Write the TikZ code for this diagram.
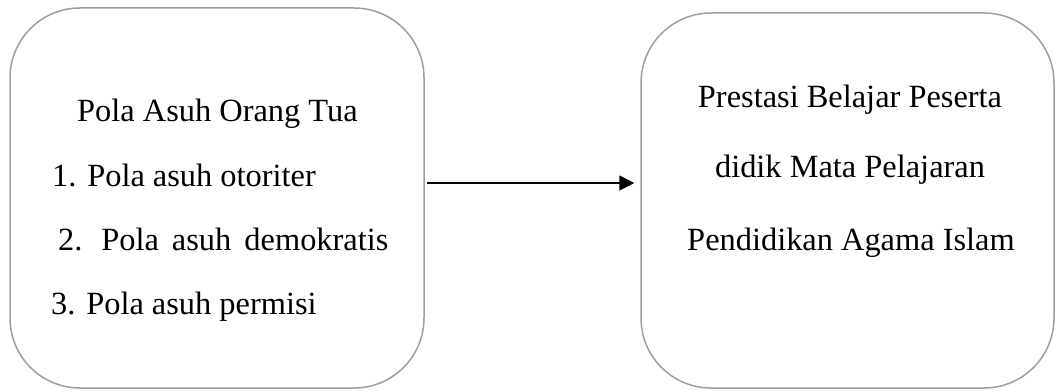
\documentclass[tikz,border=0pt]{standalone}
\usepackage{fontspec}
\setmainfont{Liberation Serif}
\usetikzlibrary{arrows.meta}
\begin{document}
\begin{tikzpicture}[x=1pt,y=1pt,
  box/.style={draw=black!38,line width=1.5pt,rounded corners=70pt,inner sep=0pt},
  txt/.style={anchor=base west,inner sep=0pt,font=\fontsize{32.4}{38}\selectfont},
  ctxt/.style={anchor=base,inner sep=0pt,font=\fontsize{32.4}{38}\selectfont},
  conn/.style={line width=1.8pt,-{Triangle[length=15pt,width=15pt]}}]
\useasboundingbox (0,0) rectangle (1056,391);
% left box: x 10..424, y(px) 8..388
\node[box,minimum width=414pt,minimum height=380pt] (L) at (217,193) {};
% right box: x 641..1054, y(px) 13..388
\node[box,minimum width=413pt,minimum height=375pt] (R) at (847.5,190.5) {};
\node[txt] (l0) at (77,269) {Pola Asuh Orang Tua};
\node[txt] (l1) at (52,204) {1. Pola asuh otoriter};
\node[txt] (l2) at (58,141) {2.\hspace{8pt} Pola\hspace{5pt} asuh\hspace{5pt} demokratis};
\node[txt] (l3) at (51,77) {3. Pola asuh permisi};
\node[ctxt] (r0) at (850,283) {Prestasi Belajar Peserta};
\node[ctxt] (r1) at (850,213) {didik Mata Pelajaran};
\node[ctxt] (r2) at (851,141) {Pendidikan Agama Islam};
\draw[conn] ([xshift=2pt,yshift=15pt]L.east) -- ([xshift=-6pt,yshift=17.5pt]R.west);
\end{tikzpicture}
\end{document}
